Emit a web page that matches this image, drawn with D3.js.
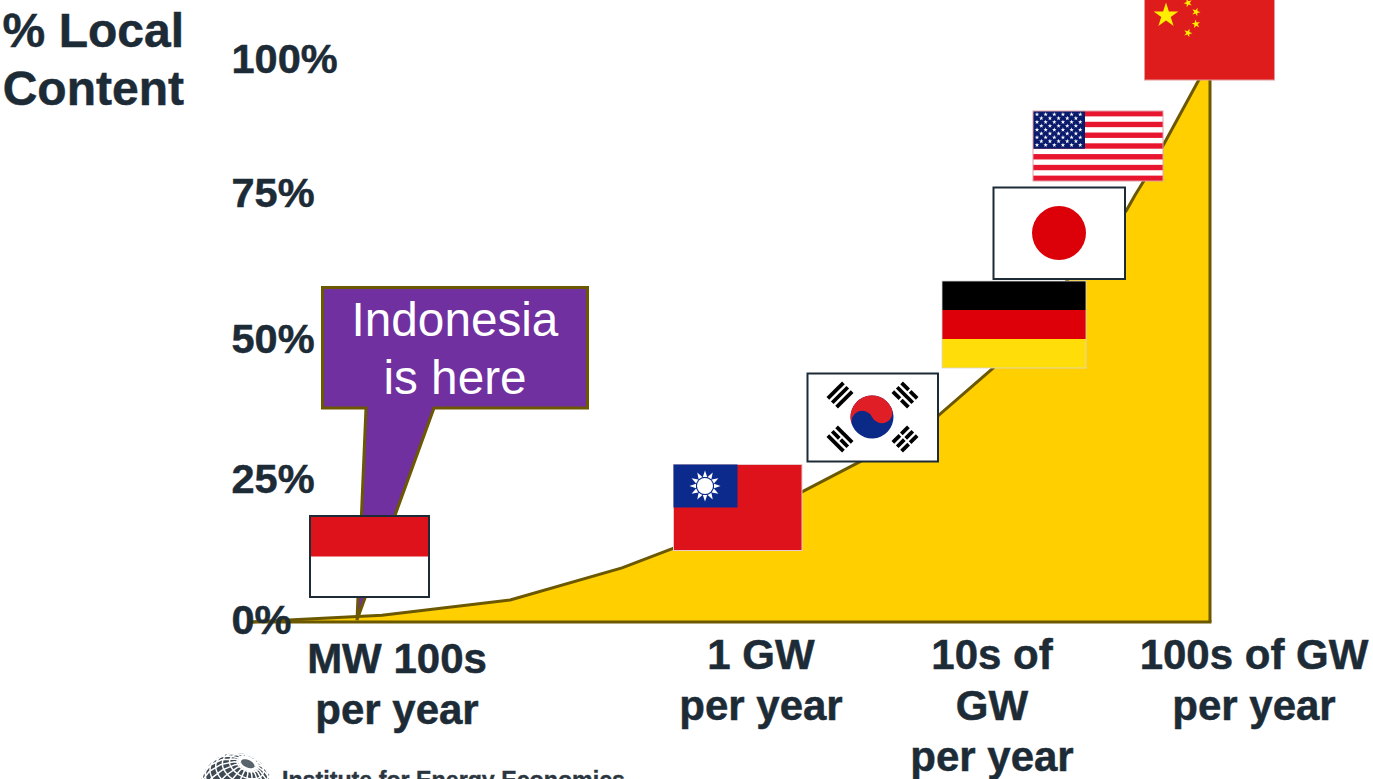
<!DOCTYPE html>
<html><head><meta charset="utf-8">
<script src="https://cdn.jsdelivr.net/npm/d3@7"></script>
<style>html,body{margin:0;padding:0;background:#fff;overflow:hidden}svg{display:block}text{font-family:"Liberation Sans",Arial,sans-serif}</style>
</head><body><svg id="c" width="1373" height="779"></svg>
<script>
// Data
const curveX = [0, 13.75, 27.1, 38.75, 44, 57.2, 63.5, 71.7, 77.4, 91.3, 92.2, 93.1, 98.8, 100];
const curveY = [0, 1.2, 3.9, 9.6, 13, 22.8, 28.4, 36.6, 45, 73, 75.7, 78.2, 96, 99.5];
const yTicks = [0, 25, 50, 75, 100];
const xCategories = [["MW 100s","per year"],["1 GW","per year"],["10s of","GW","per year"],["100s of GW","per year"]];
const yTitle = ["% Local","Content"];
const calloutLines = ["Indonesia","is here"];
const logoText = "Institute for Energy Economics";

const svg = d3.select("#c");
const ink = "#1c2b36", olive = "#6b5800", gold = "#ffcf00";
const x = d3.scaleLinear().domain([0,100]).range([250,1210]);
const y = d3.scaleLinear().domain([0,100]).range([622,58]);
const yLabel = d3.scaleLinear().domain(yTicks).range([633.5,492.5,352.5,206.5,72.5]);
const xLabel = d3.scalePoint().domain(xCategories.map(d=>d[0])).range([0,3]);
const xLabelPos = d3.scaleLinear().domain([0,1,2,3]).range([397,761,992,1254]);
const pts = curveX.map((v,i)=>[v,curveY[i]]);

// area
const area = d3.area().x(d=>x(d[0])).y0(y(0)).y1(d=>y(d[1]));
svg.append("path").datum(pts).attr("d",area).attr("fill",gold);
svg.append("path").datum(pts).attr("d",d3.line().x(d=>x(d[0])).y(d=>y(d[1])))
  .attr("fill","none").attr("stroke",olive).attr("stroke-width",3);
svg.append("line").attr("x1",x(0)).attr("x2",x(100)+1.5).attr("y1",y(0)).attr("y2",y(0)).attr("stroke",olive).attr("stroke-width",3);
svg.append("line").attr("x1",x(100)).attr("x2",x(100)).attr("y1",y(0)).attr("y2",y(99.5)).attr("stroke",olive).attr("stroke-width",3);

// y labels
const bold = s => s.attr("font-weight",700).attr("fill",ink).attr("stroke",ink).attr("stroke-width",0.5);
bold(svg.selectAll(".yt").data(yTicks).join("text").attr("class","yt")
  .attr("x",231.5).attr("y",d=>yLabel(d)).text(d=>d+"%")
  .attr("font-size",41.5));
bold(svg.selectAll(".yh").data(yTitle).join("text").attr("class","yh")
  .attr("x",184).attr("y",(d,i)=>46.5+i*58).attr("text-anchor","end").text(d=>d)
  .attr("font-size",48));

// x labels
xCategories.forEach((lines,k)=>{
  const base = k===0 ? 673 : 669;
  bold(svg.selectAll(".xl"+k).data(lines).join("text")
    .attr("x",xLabelPos(xLabel(lines[0]))).attr("y",(d,i)=>base+i*51)
    .attr("text-anchor","middle").text(d=>d)
    .attr("font-size",42));
});

// callout
svg.append("path").attr("d","M322.5,287.5H587.5V408H434L357,620L366,408H322.5Z")
  .attr("fill","#7030a0").attr("stroke",olive).attr("stroke-width",3).attr("stroke-linejoin","miter");
svg.selectAll(".cl").data(calloutLines).join("text").attr("class","cl")
  .attr("x",455).attr("y",(d,i)=>336+i*58).attr("text-anchor","middle").text(d=>d)
  .attr("font-size",47.7).attr("fill","#fff");

// flags
const light="#d8d8d8";
function rect(g,a,b,w,h,fill,stroke,sw){return g.append("rect").attr("x",a).attr("y",b).attr("width",w).attr("height",h).attr("fill",fill).attr("stroke",stroke||"none").attr("stroke-width",sw||0);}
const star = r => d3.symbol(d3.symbolStar, r*r/0.8908)();

// China
let g=svg.append("g");
rect(g,1144.5,-8,130,88,"#de1c1c","#e59a9a",1);
g.append("path").attr("d",star(13)).attr("transform","translate(1166,15.5)").attr("fill","#ffee00");
[[1188,3,-20],[1196,12,20],[1196,24,-10],[1188,33,20]].forEach(s=>g.append("path").attr("d",star(4.5)).attr("transform",`translate(${s[0]},${s[1]}) rotate(${s[2]})`).attr("fill","#ffee00"));

// USA
g=svg.append("g");
rect(g,1033,111,130,70,"#fff");
d3.range(13).forEach(i=>{ if(i%2===0) rect(g,1033,111+i*70/13,130,70/13,"#e8152f"); });
rect(g,1033,111,52,37.7,"#0a1a6c");
d3.range(9).forEach(r=>{
  const n=r%2?5:6, off=r%2?8.6:4.3;
  d3.range(n).forEach(c=>g.append("path").attr("d",star(2.4))
    .attr("transform",`translate(${1033+off-0.3+c*8.65},${111+3.4+r*3.83})`).attr("fill","#fff"));
});
rect(g,1033,111,130,70,"none","#e0a0a8",1);

// Japan
g=svg.append("g");
rect(g,993.5,187.5,131.5,91.5,"#fff",ink,2);
g.append("circle").attr("cx",1059).attr("cy",233).attr("r",27).attr("fill","#dc0008");

// Germany
g=svg.append("g");
rect(g,942,281,144,29,"#000");
rect(g,942,310,144,29,"#dd0008");
rect(g,942,339,144,29,"#ffdd08");
rect(g,942,281,144,87,"none",light,0.8);

// Korea
g=svg.append("g");
rect(g,807.5,373.5,130.5,88,"#fff",ink,2);
const tk=g.append("g").attr("transform","translate(872,417) rotate(-25)");
const R=21.5;
tk.append("circle").attr("r",R).attr("fill","#0b2a87");
tk.append("path").attr("d",`M${-R},0A${R},${R} 0 0 1 ${R},0A${R/2},${R/2} 0 0 1 0,0A${R/2},${R/2} 0 0 0 ${-R},0Z`).attr("fill","#e01e26");
function trigram(cx,cy,rot,pattern){
  const t=g.append("g").attr("transform",`translate(${cx},${cy}) rotate(${rot})`);
  pattern.forEach((broken,i)=>{
    const yy=(i-1)*6.2;
    if(broken){ t.append("rect").attr("x",-11).attr("y",yy-1.9).attr("width",10).attr("height",3.8);
                t.append("rect").attr("x",1).attr("y",yy-1.9).attr("width",10).attr("height",3.8); }
    else t.append("rect").attr("x",-11).attr("y",yy-1.9).attr("width",22).attr("height",3.8);
  });
}
trigram(840,395,-45,[0,0,0]);
trigram(905,395,45,[1,0,1]);
trigram(840,439,45,[0,1,0]);
trigram(905,439,-45,[1,1,1]);

// Taiwan
g=svg.append("g");
rect(g,673.5,464.5,128.5,86,"#de121a","#e8c8c8",1);
rect(g,673.5,464.5,64,43,"#0b2a8c");
d3.range(12).forEach(i=>{
  g.append("path").attr("d","M-2.2,-9L0,-15.5L2.2,-9Z").attr("transform",`translate(705,486) rotate(${i*30})`).attr("fill","#fff");
});
g.append("circle").attr("cx",705).attr("cy",486).attr("r",8).attr("fill","#fff");

// Indonesia
g=svg.append("g");
rect(g,310,516,119,81,"#fff",ink,2);
rect(g,311,517,117,39.5,"#de121a");

// logo
const proj=d3.geoOrthographic().scale(36).translate([236,789]).rotate([0,-37,-25]);
const gp=d3.geoPath(proj);
const lg=svg.append("g");
lg.append("path").datum({type:"Sphere"}).attr("d",gp).attr("fill","#3f4a54");
lg.append("path").datum(d3.geoGraticule().step([18,12])()).attr("d",gp).attr("fill","none").attr("stroke","#fff").attr("stroke-width",1.5);
lg.append("path").datum(d3.geoCircle().center([0,90]).radius(14)()).attr("d",gp).attr("fill","#59636c").attr("stroke","#fff").attr("stroke-width",3);
svg.append("text").attr("x",282).attr("y",788).text(logoText)
  .attr("font-size",24).attr("font-weight",700).attr("fill","#2b3640").attr("stroke","#2b3640").attr("stroke-width",0.4)
  .attr("textLength",343).attr("lengthAdjust","spacingAndGlyphs");
</script></body></html>
